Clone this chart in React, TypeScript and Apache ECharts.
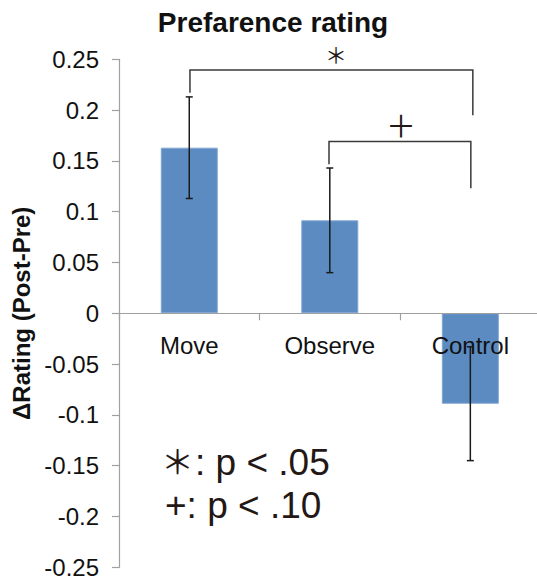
import React, { useEffect, useRef } from "react";
import * as echarts from "echarts";

const categories = ["Move", "Observe", "Control"];
const means = [0.163, 0.0915, -0.089];
const errors = [0.05, 0.0515, 0.056];

const yMin = -0.25;
const yMax = 0.25;
const yStep = 0.05;

// significance brackets: from/to category index, left stem bottom, top, right stem bottom
const bracketFrom = [0, 1];
const bracketTo = [2, 2];
const bracketLeftBottom = [0.217, 0.1467];
const bracketTop = [0.2395, 0.169];
const bracketRightBottom = [0.195, 0.123];
const bracketMarks = ["＊", "＋"];

const titleText = "Prefarence rating";
const yAxisName = "ΔRating (Post-Pre)";
const noteSymbols = ["＊", ""];
const noteLines = [": p < .05", "+: p < .10"];

const SANS = "'Liberation Sans', Arial, sans-serif";
const CJK = "'Noto Sans CJK JP', 'Noto Sans', sans-serif";

export default function App() {
  const ref = useRef<HTMLDivElement>(null);
  useEffect(() => {
    if (!ref.current) return;
    const chart = echarts.init(ref.current, null, { renderer: "svg" });
    const option: any = {
      animation: false,
      backgroundColor: "#ffffff",
      grid: {
        left: 119,
        top: 59.3,
        width: 421.6,
        bottom: 14.7,
        containLabel: false,
        outerBoundsMode: "none",
      },
      xAxis: {
        type: "category",
        data: categories,
        axisLine: { show: true, onZero: true, lineStyle: { color: "#a0a0a0", width: 1.2 } },
        axisTick: { show: true, length: 7, interval: 0, lineStyle: { color: "#a0a0a0", width: 1.2 } },
        axisLabel: { show: false },
        splitLine: { show: false },
        z: 3,
      },
      yAxis: {
        type: "value",
        min: yMin,
        max: yMax,
        interval: yStep,
        name: yAxisName,
        nameLocation: "middle",
        nameGap: 84,
        nameTextStyle: { fontSize: 24, fontWeight: "bold", color: "#111", fontFamily: SANS },
        axisLine: { show: true, lineStyle: { color: "#a0a0a0", width: 1.2 } },
        axisTick: { show: true, length: 7, lineStyle: { color: "#a0a0a0", width: 1.2 } },
        axisLabel: {
          margin: 20,
          fontSize: 24,
          color: "#111",
          fontFamily: SANS,
          formatter: (v: number) => String(parseFloat(v.toFixed(2))),
        },
        splitLine: { show: false },
      },
      series: [
        {
          type: "bar",
          data: means,
          barWidth: 57,
          itemStyle: { color: "#5b8bc1", borderColor: "#80a6d2", borderWidth: 1 },
          z: 2,
        },
        {
          // category labels placed just below the zero line
          type: "custom",
          data: categories.map((_, i) => [i, 0]),
          encode: { x: 0, y: 1 },
          z: 4,
          renderItem: (params: any, api: any) => {
            const p = api.coord([api.value(0), 0]);
            return {
              type: "text",
              x: p[0],
              y: p[1] + 20,
              style: {
                text: categories[params.dataIndex],
                fontSize: 24,
                fontFamily: SANS,
                fill: "#111",
                align: "center",
                verticalAlign: "top",
                textAlign: "center",
                textVerticalAlign: "top",
              },
            };
          },
        },
        {
          type: "custom",
          data: categories.map((_, i) => [i, means[i], errors[i]]),
          encode: { x: 0, y: 1 },
          z: 5,
          renderItem: (params: any, api: any) => {
            const i = api.value(0);
            const m = api.value(1);
            const e = api.value(2);
            const top = api.coord([i, m + e]);
            const bot = api.coord([i, m - e]);
            const x = top[0];
            const w = 3.5;
            const st = { stroke: "#1a1a1a", lineWidth: 1.5 };
            return {
              type: "group",
              children: [
                { type: "line", shape: { x1: x, y1: top[1], x2: x, y2: bot[1] }, style: st },
                { type: "line", shape: { x1: x - w, y1: top[1], x2: x + w, y2: top[1] }, style: st },
                { type: "line", shape: { x1: x - w, y1: bot[1], x2: x + w, y2: bot[1] }, style: st },
              ],
            };
          },
        },
        {
          type: "custom",
          data: bracketFrom.map((f, i) => [f, bracketTo[i], bracketLeftBottom[i], bracketTop[i], bracketRightBottom[i]]),
          encode: { x: [0, 1], y: [2, 3, 4] },
          z: 5,
          renderItem: (params: any, api: any) => {
            const idx = params.dataIndex;
            const f = api.value(0);
            const t = api.value(1);
            const lb = api.coord([f, api.value(2)]);
            const tp = api.coord([f, api.value(3)]);
            const rb = api.coord([t, api.value(4)]);
            const xr = rb[0] + (idx === 0 ? 2.5 : 0.5);
            const xl = lb[0] + (idx === 0 ? 0.7 : -0.8);
            const midX = (xl + xr) / 2 + (idx === 0 ? 4.5 : 1);
            return {
              type: "group",
              children: [
                {
                  type: "polyline",
                  shape: { points: [[xl, lb[1]], [xl, tp[1]], [xr, tp[1]], [xr, rb[1]]] },
                  style: { stroke: "#3a3a3a", lineWidth: 1.5, fill: "none" },
                },
                {
                  type: "text",
                  x: midX,
                  y: tp[1] - (idx === 0 ? 16.5 : 17.5),
                  style: {
                    text: bracketMarks[idx],
                    fontSize: idx === 0 ? 22 : 30,
                    fontFamily: CJK,
                    fill: "#231815",
                    align: "center",
                    verticalAlign: "middle",
                    textAlign: "center",
                    textVerticalAlign: "middle",
                  },
                },
              ],
            };
          },
        },
      ],
      graphic: [
        {
          type: "text",
          x: 273,
          y: 22,
          style: {
            text: titleText,
            fontSize: 28,
            fontWeight: "bold",
            fontFamily: SANS,
            fill: "#111",
            align: "center",
            verticalAlign: "middle",
            textAlign: "center",
            textVerticalAlign: "middle",
          },
        },
        ...noteSymbols
          .map((s, i) => ({ s, i }))
          .filter((o) => o.s)
          .map((o) => ({
            type: "text",
            x: 177.5,
            y: 460 + o.i * 43,
            style: {
              text: o.s,
              fontSize: 33,
              fontFamily: CJK,
              fill: "#231815",
              align: "center",
              verticalAlign: "middle",
              textAlign: "center",
              textVerticalAlign: "middle",
            },
          })),
        ...noteLines.map((t, i) => ({
          type: "text",
          x: noteSymbols[i] ? 195 : 165,
          y: 462 + i * 43,
          style: {
            text: t,
            fontSize: 37,
            lineHeight: 40,
            fontFamily: SANS,
            fill: "#231815",
            align: "left",
            verticalAlign: "middle",
            textAlign: "left",
            textVerticalAlign: "middle",
          },
        })),
      ],
    };
    chart.setOption(option);
    return () => chart.dispose();
  }, []);
  return (
    <div
      ref={ref}
      style={{ position: "absolute", left: 0, top: 0, width: 537, height: 582 }}
    />
  );
}
